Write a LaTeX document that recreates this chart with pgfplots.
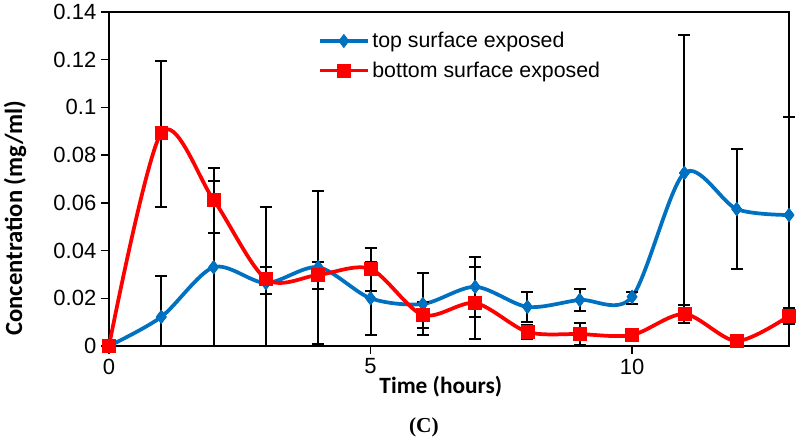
\documentclass[border=0pt]{standalone}
\usepackage{pgfplots}
\pgfplotsset{compat=1.18}
\usepackage{pgfplotstable}
\usepackage{fontspec}
\setmainfont{Liberation Sans}
\newfontfamily\calib{Carlito}
\newfontfamily\timesf{Liberation Serif}
\definecolor{xlblue}{RGB}{0,112,192}
\definecolor{xlred}{RGB}{255,0,0}
\pgfplotstableread{
x top tp tm bot bp bm
0 0 0 0 0 0 0
1 0.0122 0.0172 0.0122 0.0893 0.030 0.031
2 0.0330 0.0360 0.0330 0.0612 0.0134 0.0138
3 0.0264 0.0066 0.0044 0.0281 0.0300 0.0281
4 0.0330 0.0320 0.0320 0.0298 0.0055 0.0059
5 0.0200 0.0154 0.0154 0.0323 0.0087 0.0093
6 0.0176 0.0130 0.0130 0.0130 0.0055 0.0055
7 0.0248 0.0125 0.0125 0.0180 0.0150 0.0150
8 0.0164 0.0063 0.0063 0.0059 0.0030 0.0030
9 0.0193 0.0046 0.0046 0.0050 0.0045 0.0045
10 0.0206 0.0022 0.0030 0.0046 0.0010 0.0010
11 0.0725 0.0580 0.0580 0.0134 0.0036 0.0036
12 0.0574 0.0250 0.0250 0.0021 0.0015 0.0015
13 0.0549 0.0410 0.0410 0.0126 0.0035 0.0035
}\datatab
\begin{document}
\begin{tikzpicture}
\begin{axis}[
  scale only axis,
  width=510pt, height=250.5pt,
  xmin=0, xmax=13, ymin=0, ymax=0.14,
  xtick={0,5,10},
  ytick={0,0.02,0.04,0.06,0.08,0.1,0.12,0.14},
  scaled y ticks=false,
  yticklabel style={/pgf/number format/fixed,/pgf/number format/precision=2},
  /pgf/number format/assume math mode=true,
  tick label style={font=\fontsize{16.5}{19}\selectfont},
  tick align=outside, tick pos=left,
  major tick length=6pt,
  every tick/.style={black, line width=1pt},
  axis line style={black, line width=1.2pt},
  clip=false,
  xlabel={\calib\bfseries Time (hours)},
  ylabel={\calib\bfseries Concentration (mg/ml)},
  xlabel style={font=\fontsize{17.5}{20}\selectfont, at={(axis description cs:0.488,-0.123)}, anchor=center},
  ylabel style={font=\fontsize{18.5}{20}\selectfont, at={(axis description cs:-0.138,0.383)}, anchor=center},
  legend style={at={(axis description cs:0.305,0.952)}, anchor=north west, draw=none, fill=none,
    font=\fontsize{16}{19}\selectfont, row sep=5pt, inner sep=1pt},
  legend cell align=left,
  legend image code/.code={\draw[mark repeat=2,mark phase=2] plot coordinates {(0pt,0pt) (18pt,0pt) (36pt,0pt)};},
]
\addplot[xlblue, line width=2.8pt, smooth, mark=diamond*, mark size=5pt, mark options={solid, line width=0.5pt}] table[x=x,y=top] {\datatab};
\addlegendentry{top surface exposed}
\addplot[xlred, line width=2.8pt, smooth, mark=square*, mark size=4.8pt, mark options={solid, line width=0.5pt}] table[x=x,y=bot] {\datatab};
\addlegendentry{bottom surface exposed}
\addplot[draw=none, mark=none, forget plot, error bars/.cd, y dir=both, y explicit,
  error bar style={black, line width=1.5pt}, error mark options={black, rotate=90, mark size=4.5pt, line width=1.5pt}]
  table[x=x, y=top, y error plus=tp, y error minus=tm] {\datatab};
\addplot[draw=none, mark=none, forget plot, error bars/.cd, y dir=both, y explicit,
  error bar style={black, line width=1.5pt}, error mark options={black, rotate=90, mark size=4.5pt, line width=1.5pt}]
  table[x=x, y=bot, y error plus=bp, y error minus=bm] {\datatab};
\addplot[xlblue, only marks, mark=diamond*, mark size=5pt, forget plot] table[x=x,y=top] {\datatab};
\addplot[xlred, only marks, mark=square*, mark size=4.8pt, forget plot] table[x=x,y=bot] {\datatab};
\node[font=\timesf\bfseries\fontsize{16}{18}\selectfont] at (axis description cs:0.463,-0.245) {(C)};
\coordinate (bbsw) at (axis description cs:-0.1603,-0.2844);
\coordinate (bbne) at (axis description cs:1.0162,1.0359);
\end{axis}
\pgfresetboundingbox
\path[use as bounding box] (bbsw) rectangle (bbne);
\end{tikzpicture}
\end{document}
